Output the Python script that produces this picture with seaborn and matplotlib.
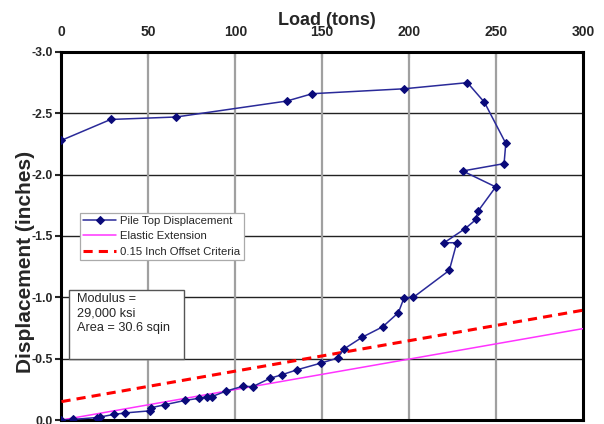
import matplotlib
matplotlib.use("Agg")
import matplotlib.pyplot as plt
from matplotlib.patches import Rectangle
import seaborn as sns
import pandas as pd

# ---- data ----
load_tons = [0, 6.8, 20.3, 22.2, 30.4, 36.8, 51.0, 51.5, 59.6, 71.1, 79.1, 83.5, 86.4,
             94.7, 104.3, 110.0, 120.0, 127.0, 135.7, 149.5, 158.8, 162.3, 173.0,
             184.8, 193.8, 197.1, 202.4, 223.1, 227.4, 220.1, 232.2, 238.5, 239.5,
             249.8, 230.8, 254.6, 255.6, 243.3, 233.5, 197.1, 144.3, 129.6, 65.9,
             28.3, 0.0]
displacement_in = [0.0, -0.005, -0.02, -0.025, -0.046, -0.058, -0.075, -0.10, -0.125,
                   -0.16, -0.177, -0.19, -0.19, -0.236, -0.275, -0.272, -0.34, -0.37,
                   -0.41, -0.465, -0.505, -0.577, -0.675, -0.76, -0.875, -0.997, -1.0,
                   -1.22, -1.445, -1.445, -1.56, -1.635, -1.70, -1.90, -2.03, -2.09,
                   -2.255, -2.59, -2.75, -2.70, -2.66, -2.60, -2.47, -2.45, -2.28]

line_load = [0, 300]
elastic_in = [0.0, -0.745]
offset_in = [-0.15, -0.895]

x_ticks = [0, 50, 100, 150, 200, 250, 300]
y_ticks = [-3.0, -2.5, -2.0, -1.5, -1.0, -0.5, 0.0]
y_tick_labels = ["-3.0", "-2.5", "-2.0", "-1.5", "-1.0", "-0.5", "0.0"]

sns.set_style("white")
plt.rcParams['font.family'] = ['Liberation Sans', 'DejaVu Sans']

fig = plt.figure(figsize=(6.04, 4.24), dpi=100)
ax = fig.add_axes([0.1018, 0.0094, 0.8634, 0.868])

pile = pd.DataFrame({"load": load_tons, "disp": displacement_in})
el = pd.DataFrame({"load": line_load, "disp": elastic_in})
off = pd.DataFrame({"load": line_load, "disp": offset_in})

sns.lineplot(data=pile, x="load", y="disp", sort=False, estimator=None, ax=ax,
             color="#2a2a99", lw=1.1, marker="D", markersize=4.2,
             markeredgecolor="#0a0a7a", markerfacecolor="#0a0a7a",
             label="Pile Top Displacement", zorder=5)
sns.lineplot(data=el, x="load", y="disp", sort=False, estimator=None, ax=ax,
             color="#ff33ff", lw=1.1, label="Elastic Extension", zorder=4)
sns.lineplot(data=off, x="load", y="disp", sort=False, estimator=None, ax=ax,
             color="#ff0000", lw=2.2, label="0.15 Inch Offset Criteria", zorder=4)
ax.lines[-1].set_linestyle((0, (3, 2.0)))

ax.set_xlim(0, 300)
ax.set_ylim(0, -3.0)
ax.set_xticks(x_ticks)
ax.set_yticks(y_ticks)
ax.set_yticklabels(y_tick_labels)

ax.xaxis.tick_top()
ax.xaxis.set_label_position("top")
ax.tick_params(axis="x", direction="in", length=4, width=1.5, pad=9,
               labelsize=10, top=True, bottom=False)
ax.tick_params(axis="y", direction="out", length=4, width=1.5, pad=2,
               labelsize=8.8, left=True)
for lab in ax.get_xticklabels() + ax.get_yticklabels():
    lab.set_fontweight("bold")

ax.grid(False)
for yv in y_ticks[1:-1]:
    ax.axhline(yv, color="#222222", lw=1.0, zorder=1)
for xv in x_ticks[1:-1]:
    ax.axvline(xv, color="#a0a0a0", lw=1.6, zorder=1)

for s in ax.spines.values():
    s.set_visible(True)
    s.set_color("black")
    s.set_linewidth(2.2)

ax.set_xlabel("Load (tons)", fontsize=13, fontweight="bold")
ax.set_ylabel("Displacement (inches)", fontsize=15, fontweight="bold")
ax.xaxis.set_label_coords(0.508, 1.073)
ax.yaxis.set_label_coords(-0.05, 0.43)

leg = ax.legend(loc="lower left", bbox_to_anchor=(0.035, 0.435), fontsize=8.2,
                frameon=True, fancybox=False, framealpha=1, edgecolor="#aaaaaa",
                handlelength=2.9, handletextpad=0.35, borderpad=0.3,
                labelspacing=0.45, borderaxespad=0)
leg.get_frame().set_linewidth(0.9)
leg.set_zorder(7)

ax.add_patch(Rectangle((0.0144, 0.166), 0.2206, 0.187, transform=ax.transAxes,
                       facecolor="white", edgecolor="#555555", lw=1.0, zorder=6))
ax.text(0.0297, 0.345, "Modulus =\n29,000 ksi\nArea = 30.6 sqin", transform=ax.transAxes,
        fontsize=9.2, va="top", ha="left", linespacing=1.3, zorder=7)

fig.savefig("out.png", dpi=100)
